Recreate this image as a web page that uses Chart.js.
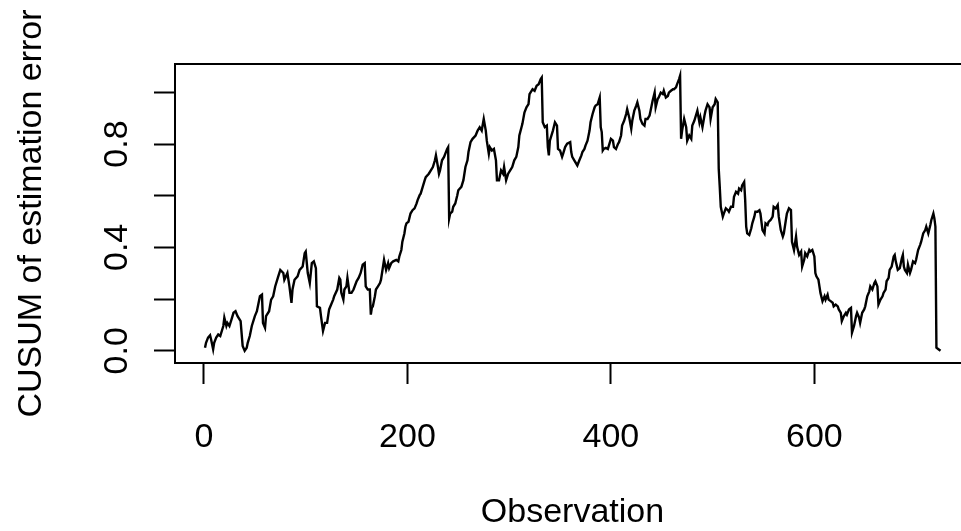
<!DOCTYPE html>
<html>
<head>
<meta charset="utf-8">
<title>CUSUM of estimation error</title>
<script src="https://cdn.jsdelivr.net/npm/chart.js@4.4.1/dist/chart.umd.min.js"></script>
<style>
    html, body { margin: 0; padding: 0; background: #fff; overflow: hidden; }
    /* plot region runs past the right edge of the window, as in the reference */
    #wrap { width: 990px; height: 531px; position: relative; }
</style>
</head>
<body>
<div id="wrap"><canvas id="cusumChart"></canvas></div>
<script>
// Data (observation index, cumulative error)
const obsIndex = [
    1, 2, 4, 6, 7, 9, 10, 12, 14, 16, 19, 20, 22, 23, 25, 27, 29, 31, 33, 36,
    38, 40, 42, 43, 45, 47, 50, 52, 55, 57, 58, 60, 61, 64, 66, 68, 70, 73, 75, 78,
    79, 82, 84, 86, 87, 89, 92, 94, 97, 99, 100, 102, 104, 106, 108, 110, 111, 114, 115, 117,
    119, 121, 123, 125, 127, 128, 131, 133, 134, 135, 137, 138, 140, 141, 143, 145, 147, 150, 152, 154,
    156, 158, 159, 161, 163, 164, 165, 166, 168, 169, 171, 173, 174, 176, 177, 179, 181, 182, 184, 186,
    189, 191, 192, 194, 195, 197, 198, 199, 201, 203, 205, 207, 209, 210, 212, 213, 215, 217, 218, 221,
    223, 225, 227, 228, 230, 231, 232, 234, 236, 239, 240, 241, 242, 244, 245, 247, 249, 250, 253, 255,
    257, 259, 260, 262, 264, 267, 269, 271, 273, 275, 277, 278, 280, 281, 283, 285, 287, 288, 290, 292,
    294, 295, 297, 299, 301, 303, 305, 307, 309, 310, 313, 315, 317, 319, 320, 323, 325, 327, 329, 331,
    332, 333, 335, 337, 338, 339, 340, 343, 345, 347, 348, 350, 352, 353, 355, 357, 360, 361, 362, 364,
    367, 369, 371, 372, 374, 375, 377, 379, 380, 382, 384, 385, 387, 389, 390, 391, 392, 393, 395, 397,
    398, 400, 402, 403, 405, 407, 408, 410, 411, 413, 415, 416, 418, 420, 421, 423, 425, 426, 428, 429,
    431, 433, 434, 436, 438, 439, 441, 443, 444, 446, 447, 449, 451, 452, 454, 456, 457, 459, 461, 462,
    464, 465, 467, 468, 469, 470, 472, 474, 475, 477, 479, 480, 482, 484, 485, 487, 488, 490, 492, 493,
    495, 497, 498, 500, 502, 503, 505, 506, 507, 508, 510, 511, 513, 515, 516, 518, 520, 521, 523, 525,
    526, 528, 529, 531, 532, 533, 534, 536, 538, 539, 541, 542, 544, 546, 547, 549, 551, 552, 554, 555,
    557, 559, 560, 562, 564, 565, 567, 569, 570, 572, 573, 575, 577, 578, 580, 582, 583, 585, 587, 588,
    590, 591, 593, 595, 596, 598, 600, 601, 602, 604, 605, 606, 608, 610, 611, 613, 614, 616, 618, 619,
    621, 623, 624, 626, 627, 629, 631, 632, 634, 636, 637, 639, 641, 642, 644, 645, 647, 649, 650, 652,
    654, 655, 657, 659, 660, 662, 663, 665, 667, 668, 670, 671, 673, 674, 676, 678, 679, 680, 682, 684,
    686, 687, 688, 689, 691, 692, 694, 695, 697, 699, 700, 702, 704, 705, 707, 709, 710, 712, 714, 715,
    717, 718, 719, 720, 722, 724
];
const cusum = [
    0.012, 0.031, 0.051, 0.060, 0.044, 0.006, 0.031, 0.051, 0.063, 0.057, 0.096, 0.128, 0.096, 0.108, 0.096, 0.121, 0.147, 0.153, 0.134, 0.115,
    0.019, 0.000, 0.012, 0.031, 0.057, 0.096, 0.134, 0.153, 0.211, 0.217, 0.108, 0.089, 0.134, 0.153, 0.198, 0.211, 0.249, 0.288, 0.313, 0.301,
    0.275, 0.301, 0.249, 0.185, 0.237, 0.275, 0.288, 0.313, 0.326, 0.378, 0.384, 0.301, 0.262, 0.339, 0.346, 0.320, 0.172, 0.166, 0.134, 0.077,
    0.108, 0.108, 0.160, 0.179, 0.198, 0.211, 0.237, 0.282, 0.275, 0.224, 0.198, 0.237, 0.249, 0.282, 0.224, 0.224, 0.237, 0.269, 0.282, 0.301,
    0.333, 0.339, 0.249, 0.237, 0.237, 0.140, 0.166, 0.172, 0.211, 0.237, 0.249, 0.262, 0.275, 0.326, 0.352, 0.313, 0.339, 0.320, 0.339, 0.346,
    0.352, 0.346, 0.365, 0.390, 0.422, 0.454, 0.480, 0.493, 0.499, 0.531, 0.544, 0.551, 0.570, 0.583, 0.602, 0.608, 0.634, 0.660, 0.672, 0.685,
    0.698, 0.711, 0.737, 0.756, 0.711, 0.685, 0.698, 0.737, 0.750, 0.781, 0.788, 0.512, 0.531, 0.538, 0.557, 0.570, 0.602, 0.621, 0.634, 0.660,
    0.711, 0.737, 0.769, 0.807, 0.820, 0.833, 0.852, 0.865, 0.852, 0.897, 0.852, 0.813, 0.762, 0.788, 0.775, 0.781, 0.737, 0.660, 0.660, 0.698,
    0.685, 0.711, 0.660, 0.685, 0.698, 0.711, 0.737, 0.750, 0.788, 0.833, 0.878, 0.922, 0.942, 0.954, 0.993, 1.012, 1.006, 1.025, 1.031, 1.051,
    1.057, 0.884, 0.865, 0.871, 0.788, 0.756, 0.813, 0.852, 0.884, 0.871, 0.781, 0.775, 0.750, 0.762, 0.788, 0.801, 0.807, 0.769, 0.750, 0.737,
    0.717, 0.737, 0.756, 0.769, 0.781, 0.794, 0.813, 0.852, 0.884, 0.916, 0.942, 0.949, 0.954, 0.980, 0.865, 0.846, 0.775, 0.781, 0.785, 0.781,
    0.794, 0.820, 0.813, 0.788, 0.781, 0.801, 0.807, 0.833, 0.871, 0.890, 0.916, 0.935, 0.903, 0.859, 0.890, 0.929, 0.949, 0.961, 0.929, 0.897,
    0.878, 0.871, 0.897, 0.897, 0.910, 0.929, 0.967, 0.999, 0.942, 0.974, 0.980, 0.999, 0.993, 1.006, 0.980, 0.986, 0.999, 1.006, 1.012, 1.012,
    1.019, 1.031, 1.051, 1.064, 0.820, 0.852, 0.897, 0.865, 0.813, 0.833, 0.820, 0.871, 0.890, 0.916, 0.929, 0.884, 0.903, 0.865, 0.910, 0.929,
    0.954, 0.942, 0.897, 0.942, 0.954, 0.974, 0.961, 0.704, 0.634, 0.557, 0.519, 0.531, 0.551, 0.544, 0.538, 0.557, 0.557, 0.596, 0.615, 0.608,
    0.628, 0.621, 0.640, 0.653, 0.583, 0.480, 0.454, 0.448, 0.474, 0.493, 0.519, 0.538, 0.538, 0.544, 0.531, 0.467, 0.454, 0.493, 0.487, 0.499,
    0.506, 0.519, 0.557, 0.551, 0.564, 0.519, 0.467, 0.442, 0.454, 0.506, 0.531, 0.551, 0.544, 0.422, 0.390, 0.442, 0.403, 0.371, 0.384, 0.326,
    0.352, 0.378, 0.365, 0.390, 0.384, 0.390, 0.365, 0.301, 0.288, 0.275, 0.249, 0.224, 0.192, 0.211, 0.198, 0.217, 0.198, 0.192, 0.186, 0.172,
    0.179, 0.172, 0.160, 0.147, 0.115, 0.134, 0.147, 0.140, 0.160, 0.166, 0.070, 0.096, 0.134, 0.147, 0.128, 0.108, 0.147, 0.160, 0.172, 0.211,
    0.230, 0.249, 0.237, 0.262, 0.269, 0.249, 0.179, 0.198, 0.211, 0.224, 0.237, 0.269, 0.282, 0.313, 0.326, 0.365, 0.371, 0.346, 0.313, 0.320,
    0.358, 0.371, 0.326, 0.313, 0.301, 0.333, 0.301, 0.313, 0.346, 0.339, 0.352, 0.390, 0.410, 0.422, 0.454, 0.467, 0.480, 0.454, 0.487, 0.506,
    0.531, 0.512, 0.480, 0.012, 0.006, 0.000
];

// Axis ticks (R only labels every other y tick)
const xTicks = [0, 200, 400, 600];
const xTickLabels = ['0', '200', '400', '600'];
const yTicks = [0, 0.2, 0.4, 0.6, 0.8, 1.0];
const yTickLabels = ['0.0', '', '0.4', '', '0.8', ''];

const FONT = { family: '"Liberation Sans", Arial, sans-serif', size: 34 };

// Box round the plot region + rotated y labels, R style
const rPlotFrame = {
    id: 'rPlotFrame',
    afterDraw(chart) {
        const { ctx, chartArea: a, scales } = chart;
        ctx.save();
        ctx.strokeStyle = '#000';
        ctx.lineWidth = 2;
        ctx.strokeRect(a.left, a.top, a.right - a.left, a.bottom - a.top);

        ctx.fillStyle = '#000';
        ctx.font = `${FONT.size}px ${FONT.family}`;
        ctx.textAlign = 'center';
        ctx.textBaseline = 'alphabetic';
        yTicks.forEach((v, i) => {
            if (!yTickLabels[i]) return;
            const py = scales.y.getPixelForValue(v);
            ctx.save();
            ctx.translate(127, py);
            ctx.rotate(-Math.PI / 2);
            ctx.fillText(yTickLabels[i], 0, 0);
            ctx.restore();
        });
        ctx.restore();
    }
};

let chart;

function initChart() {
    const ctx = document.getElementById('cusumChart').getContext('2d');
    const points = obsIndex.map((x, i) => ({ x: x, y: cusum[i] }));

    chart = new Chart(ctx, {
        type: 'line',
        data: {
            datasets: [{
                data: points,
                borderColor: '#000',
                borderWidth: 2.4,
                tension: 0,
                pointRadius: 0,
                fill: false
            }]
        },
        options: {
            responsive: true,
            maintainAspectRatio: false,
            animation: false,
            layout: { padding: { left: 0, right: 20, top: 64, bottom: 0 } },
            plugins: {
                legend: { display: false },
                tooltip: { enabled: false }
            },
            scales: {
                x: {
                    type: 'linear',
                    min: -28.5,
                    max: 753,
                    afterBuildTicks: (s) => { s.ticks = xTicks.map(v => ({ value: v })); },
                    afterFit: (s) => { s.height = 168; },
                    border: { display: false },
                    grid: {
                        drawOnChartArea: false,
                        drawTicks: true,
                        tickLength: 21,
                        tickWidth: 2,
                        tickColor: '#000'
                    },
                    ticks: {
                        autoSkip: false,
                        maxRotation: 0,
                        padding: 33,
                        color: '#000',
                        font: FONT,
                        callback: (v) => xTickLabels[xTicks.indexOf(v)]
                    },
                    title: {
                        display: true,
                        text: 'Observation',
                        color: '#000',
                        font: { ...FONT, lineHeight: 1.05 },
                        padding: { top: 0, bottom: 1 }
                    }
                },
                y: {
                    min: -0.0472,
                    max: 1.1095,
                    afterBuildTicks: (s) => { s.ticks = yTicks.map(v => ({ value: v })); },
                    afterFit: (s) => { s.width = 175; },
                    border: { display: false },
                    grid: {
                        drawOnChartArea: false,
                        drawTicks: true,
                        tickLength: 21,
                        tickWidth: 2,
                        tickColor: '#000'
                    },
                    ticks: { display: false },
                    title: {
                        display: true,
                        text: 'CUSUM of estimation error',
                        color: '#000',
                        font: FONT,
                        padding: { top: 11, bottom: 0 }
                    }
                }
            }
        },
        plugins: [rPlotFrame]
    });
}

document.addEventListener('DOMContentLoaded', initChart);
</script>
</body>
</html>
